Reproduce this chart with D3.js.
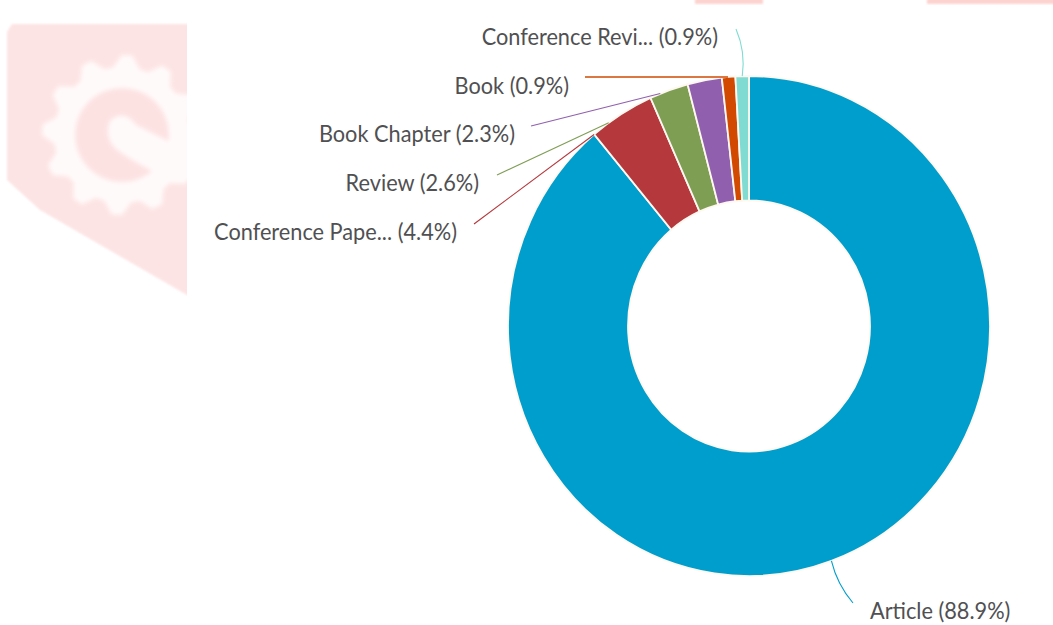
<!DOCTYPE html>
<html>
<head>
<meta charset="utf-8">
<script src="https://cdn.jsdelivr.net/npm/d3@7"></script>
<style>
  html, body { margin: 0; padding: 0; background: #fff; }
  svg { display: block; }
  text { font-family: Lato, "Open Sans", sans-serif; font-size: 23px; fill: #505052; }
</style>
</head>
<body>
<svg id="chart" width="1053" height="625"></svg>
<script>
// Document types, clockwise from twelve o'clock
const categories = ["Article", "Conference Pape...", "Review", "Book Chapter", "Book", "Conference Revi..."];
const shares = [88.9, 4.4, 2.6, 2.3, 0.9, 0.9];
const colours = ["#009ecd", "#b5383d", "#7e9e54", "#9060ae", "#d24a02", "#80dcd2"];

// Rim angle (degrees from twelve o'clock) where each leader touches the ring
const leaderAngles = [160, -40, -35.6, -21.6, -5, -1.6];
// Label anchor, text alignment and the free end of each leader
const labelX = [870, 457, 479, 515, 569, 718];
const labelY = [611, 232, 183, 134, 86, 37];
const labelAlign = ["start", "end", "end", "end", "end", "end"];
const leaderEndX = [853, 474, 497, 531, 585, 736];
const leaderEndY = [603, 224, 175, 126, 77, 29];
const leaderBend = [0.12, 0, 0, 0, 0, 0.14];

const centre = { x: 749, y: 326 };
const radiusX = 241, holeRatio = 0.502, squash = 250 / 241;
const textWidthScale = 0.945;

const svg = d3.select("#chart");

// Faint background stamp
const defs = svg.append("defs");
defs.append("filter").attr("id", "soft").append("feGaussianBlur").attr("stdDeviation", 2);
defs.append("filter").attr("id", "softEdge").append("feGaussianBlur").attr("stdDeviation", 1);
defs.append("clipPath").attr("id", "stampClip").append("rect")
  .attr("x", 0).attr("y", 0).attr("width", 187).attr("height", 320);

const stampClip = svg.append("g").attr("clip-path", "url(#stampClip)");
stampClip.append("path")
  .attr("d", "M12,24 H200 V303 L187,295 L40,210 L7,180 V32 Z")
  .attr("fill", "#fde4e4")
  .attr("filter", "url(#softEdge)");

const teeth = 12, gearOuter = 80, gearRoot = 68;
const gearPoints = d3.range(teeth * 4).map(i => {
  const a = i / (teeth * 4) * 2 * Math.PI;
  return [a, i % 4 < 2 ? gearOuter : gearRoot];
});
const gear = stampClip.append("g")
  .attr("filter", "url(#soft)")
  .append("g").attr("transform", "translate(122,135)");
gear.append("path")
  .attr("d", d3.lineRadial().curve(d3.curveLinearClosed)(gearPoints))
  .attr("fill", "#fffafa");
gear.append("circle").attr("r", 47).attr("fill", "#fde2e2");
gear.append("path")
  .attr("d", "M-12,-14 Q2,-26 14,-10 L50,8 L80,8 L80,45 L38,40 Q10,26 -6,14 Q-18,2 -12,-14 Z")
  .attr("fill", "#fffafa");

// Thin strips along the top edge
svg.append("g").attr("filter", "url(#softEdge)")
  .selectAll("rect").data([[695, 68], [927, 130]]).join("rect")
  .attr("x", d => d[0]).attr("y", -3).attr("width", d => d[1]).attr("height", 7)
  .attr("fill", "#fdd3cf");

// Ring
const pie = d3.pie().sort(null).value(d => d)
  .startAngle(0).endAngle(2 * Math.PI);
const arc = d3.arc().innerRadius(radiusX * holeRatio).outerRadius(radiusX);

const ring = svg.append("g")
  .attr("transform", `translate(${centre.x},${centre.y}) scale(1,${squash})`);
ring.selectAll("path").data(pie(shares)).join("path")
  .attr("d", arc)
  .attr("fill", (d, i) => colours[i])
  .attr("stroke", "#fff8f0")
  .attr("stroke-width", 1.8);

// Leaders run from the rim out to each label
const rimPoint = deg => {
  const a = deg * Math.PI / 180;
  return [centre.x + radiusX * Math.sin(a), centre.y - radiusX * squash * Math.cos(a)];
};
svg.append("g").selectAll("path").data(categories).join("path")
  .attr("fill", "none")
  .attr("stroke", (d, i) => colours[i])
  .attr("stroke-width", (d, i) => i === 4 ? 1.6 : 1.1)
  .attr("d", (d, i) => {
    const [x0, y0] = rimPoint(leaderAngles[i]);
    const x1 = leaderEndX[i], y1 = leaderEndY[i];
    const mx = (x0 + x1) / 2 - (y1 - y0) * leaderBend[i];
    const my = (y0 + y1) / 2 + (x1 - x0) * leaderBend[i];
    const p = d3.path();
    p.moveTo(x0, y0);
    p.quadraticCurveTo(mx, my, x1, y1);
    return p.toString();
  });

svg.append("g").selectAll("text").data(categories).join("text")
  .attr("transform", (d, i) => `translate(${labelX[i]},${labelY[i] + 8}) scale(${textWidthScale},1)`)
  .attr("text-anchor", (d, i) => labelAlign[i])
  .text((d, i) => `${d} (${shares[i].toFixed(1)}%)`);
</script>
</body>
</html>
